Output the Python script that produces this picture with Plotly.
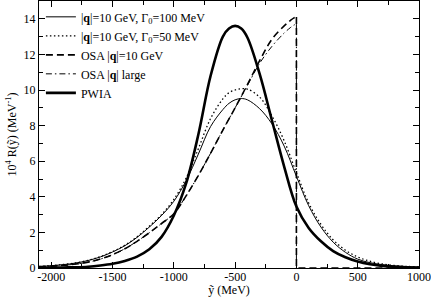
import plotly.graph_objects as go

# ---- data ----
x_full = [-2100, -2000, -1900, -1800, -1700, -1600, -1500, -1400, -1300, -1200,
          -1100, -1000, -900, -800, -700, -600, -550, -500, -450, -400,
          -300, -200, -100, 0, 100, 200, 300, 400, 500, 600, 700, 800, 900, 1000]

r_gamma100 = [0.09, 0.13, 0.19, 0.28, 0.42, 0.62, 0.90, 1.25, 1.72, 2.30,
              2.95, 3.75, 4.90, 6.40, 7.95, 8.90, 9.25, 9.45, 9.52, 9.45,
              8.95, 8.10, 6.85, 5.15, 3.50, 2.30, 1.45, 0.88, 0.50, 0.30, 0.19, 0.12, 0.08, 0.05]

r_gamma50 = [0.09, 0.13, 0.20, 0.29, 0.43, 0.64, 0.92, 1.28, 1.75, 2.35,
             3.00, 3.85, 5.05, 6.70, 8.40, 9.50, 9.85, 10.00, 10.07, 10.05,
             9.60, 8.55, 7.15, 5.35, 3.65, 2.45, 1.58, 1.00, 0.62, 0.38, 0.23, 0.14, 0.09, 0.06]

r_pwia = [0.01, 0.02, 0.03, 0.04, 0.07, 0.14, 0.24, 0.40, 0.64, 1.05,
          1.75, 2.95, 4.75, 7.50, 10.80, 13.00, 13.45, 13.60, 13.45, 12.95,
          10.90, 8.30, 5.70, 3.45, 2.25, 1.50, 0.95, 0.60, 0.36, 0.21, 0.12, 0.07, 0.04, 0.03]

x_osa = [-2100, -2000, -1900, -1800, -1700, -1600, -1500, -1400, -1300, -1200,
         -1100, -1000, -900, -800, -700, -600, -500, -400, -300, -200,
         -100, -50, -20, 0]

r_osa10 = [0.07, 0.10, 0.15, 0.22, 0.33, 0.50, 0.75, 1.08, 1.50, 1.98,
           2.50, 3.05, 4.05, 5.20, 6.45, 7.75, 9.00, 10.30, 11.65, 12.85,
           13.60, 13.90, 14.05, 14.10]

r_osa_large = [0.07, 0.10, 0.15, 0.22, 0.33, 0.50, 0.75, 1.08, 1.50, 1.98,
               2.50, 3.05, 4.05, 5.20, 6.45, 7.75, 9.00, 10.25, 11.50, 12.45,
               13.20, 13.50, 13.65, 13.70]

x_ticks = [-2000, -1500, -1000, -500, 0, 500, 1000]
y_ticks = [0, 2, 4, 6, 8, 10, 12, 14]

FONT = "Liberation Serif, Times New Roman, serif"
BLACK = "black"

fig = go.Figure()

fig.add_trace(go.Scatter(x=x_full, y=r_gamma100, mode="lines",
                         name="|<b>q</b>|=10 GeV, Γ<sub>0</sub>=100 MeV",
                         line=dict(color=BLACK, width=1, shape="spline")))
fig.add_trace(go.Scatter(x=x_full, y=r_gamma50, mode="lines",
                         name="|<b>q</b>|=10 GeV, Γ<sub>0</sub>=50 MeV",
                         line=dict(color=BLACK, width=1.3, dash="1.5px,2.5px", shape="spline")))
fig.add_trace(go.Scatter(x=x_osa, y=r_osa10, mode="lines",
                         name="OSA |<b>q</b>|=10 GeV",
                         line=dict(color=BLACK, width=1.6, dash="7px,4px", shape="spline")))
fig.add_trace(go.Scatter(x=x_osa, y=r_osa_large, mode="lines",
                         name="OSA |<b>q</b>| large",
                         line=dict(color=BLACK, width=1, dash="6px,3px,1.5px,3px", shape="spline")))
fig.add_trace(go.Scatter(x=x_full, y=r_pwia, mode="lines",
                         name="PWIA",
                         line=dict(color=BLACK, width=2.6, shape="spline")))

# vertical drop of the OSA curves at the end of their support, then zero
fig.add_trace(go.Scatter(x=[x_osa[-1], x_osa[-1], x_full[-1]], y=[r_osa10[-1], 0, 0],
                         mode="lines", showlegend=False, hoverinfo="skip",
                         line=dict(color=BLACK, width=1.6, dash="7px,4px")))
fig.add_trace(go.Scatter(x=[x_osa[-1], x_osa[-1]], y=[r_osa_large[-1], 0],
                         mode="lines", showlegend=False, hoverinfo="skip",
                         line=dict(color=BLACK, width=1, dash="6px,3px,1.5px,3px")))

axis_common = dict(showgrid=False, zeroline=False, showline=True, linecolor=BLACK,
                   linewidth=1.2, mirror="allticks", ticks="inside", tickcolor=BLACK,
                   tickwidth=1, ticklen=6,
                   tickfont=dict(family=FONT, size=12, color=BLACK))

fig.update_xaxes(range=[-2100, 1000], tickvals=x_ticks,
                 ticktext=[str(v) for v in x_ticks],
                 ticklabelstandoff=-3,
                 minor=dict(dtick=250, tick0=0, ticks="inside", ticklen=4, tickcolor=BLACK, tickwidth=1),
                 title=dict(text="ỹ (MeV)", font=dict(family=FONT, size=12, color=BLACK), standoff=0),
                 **axis_common)
fig.update_yaxes(range=[0, 15], tickvals=y_ticks,
                 ticktext=[str(v) for v in y_ticks],
                 minor=dict(dtick=1, tick0=0, ticks="inside", ticklen=4, tickcolor=BLACK, tickwidth=1),
                 title=dict(text="10<sup>4</sup> R(ỹ) (MeV<sup>-1</sup>)",
                            font=dict(family=FONT, size=12, color=BLACK), standoff=4),
                 **axis_common)

fig.update_layout(
    width=431, height=305,
    margin=dict(l=39, r=12, t=1, b=37, autoexpand=False),
    paper_bgcolor="white", plot_bgcolor="white",
    font=dict(family=FONT, size=12, color=BLACK),
    showlegend=True,
    legend=dict(x=0.005, y=0.995, xanchor="left", yanchor="top",
                bgcolor="rgba(0,0,0,0)", borderwidth=0,
                font=dict(family=FONT, size=12, color=BLACK),
                itemwidth=30, tracegroupgap=0),
)

fig.write_html("out.html",
               config={"displayModeBar": False},
               post_script="document.body.style.margin='0';document.body.style.padding='0';")
